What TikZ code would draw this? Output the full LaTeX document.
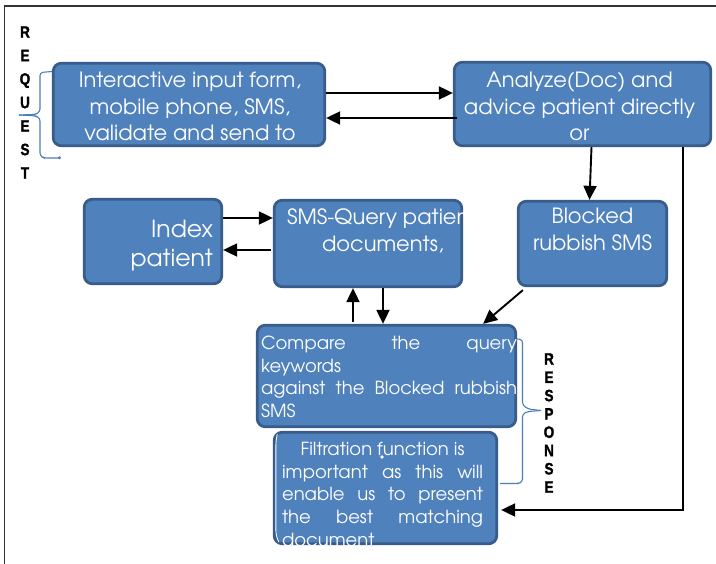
\documentclass[tikz,border=0pt]{standalone}
\usepackage{fontspec}
\setmainfont{TeX Gyre Adventor}
\newfontfamily\lblfont{Liberation Sans}[FakeStretch=0.82, FakeBold=1.5]
\usetikzlibrary{arrows.meta}
\definecolor{boxfill}{HTML}{4F81BD}
\definecolor{boxline}{HTML}{385D8A}
\definecolor{bracecol}{HTML}{4A7EBB}
\definecolor{framecol}{HTML}{333333}
\begin{document}
\begin{tikzpicture}[x=1pt,y=-1pt,
  box/.style={draw=boxline, fill=boxfill, line width=2.8pt, rounded corners=8pt, inner sep=0pt},
  txt/.style={text=white, inner sep=0pt, align=center, anchor=north, font=\fontsize{21}{26.5}\selectfont},
  smalltxt/.style={text=white, inner sep=0pt, align=left, anchor=north west, font=\fontsize{18}{22.7}\selectfont},
  arr/.style={draw=black, line width=1.9pt, -{Triangle[length=14pt,width=13pt]}},
  bracestyle/.style={draw=bracecol, line width=1.1pt, rounded corners=3pt},
  letters/.style={inner sep=0pt, align=center, font=\lblfont\bfseries\fontsize{16.5}{#1}\selectfont}]
\useasboundingbox (0,0) rectangle (716,564);
\fill[white] (0,0) rectangle (716,564);
% frame
\draw[framecol, line width=1.3pt] (4.5,570) -- (4.5,6) -- (720,6);

% boxes
\node[box, minimum width=271.5pt, minimum height=82.5pt] (in) at (189,104.5) {};
\node[box, minimum width=256.5pt, minimum height=83.5pt] (an) at (582.5,104) {};
\node[box, minimum width=148.5pt, minimum height=84.5pt] (bl) at (592.5,243.5) {};
\node[box, minimum width=137.5pt, minimum height=84.5pt] (ix) at (153,241.5) {};
\node[box, minimum width=187.5pt, minimum height=86.5pt] (sq) at (368,243.5) {};
\node[box, minimum width=258.5pt, minimum height=101.5pt] (cm) at (386.5,376) {};
\node[box, minimum width=222.5pt, minimum height=111.5pt] (fi) at (385.5,488) {};

% texts
\node[txt] (tin) at ([xshift=1pt,yshift=-10pt]in.north) {Interactive input form,\\mobile phone, SMS,\\validate and send to};
\node[txt] (tan) at ([xshift=-3pt,yshift=-11pt]an.north) {Analyze(Doc) and\\advice patient directly\\or};
\node[txt] (tbl) at ([yshift=-8pt]bl.north) {Blocked\\rubbish SMS};
\node[txt, anchor=north east, align=right, font=\fontsize{23.5}{29}\selectfont] (tix) at ([xshift=-10pt,yshift=-22pt]ix.north east) {Index\\patient};
\begin{scope}
  \clip[rounded corners=8pt] (sq.south west) rectangle (sq.north east);
  \node[txt, anchor=north west, align=left] (tsq) at ([xshift=14pt,yshift=-10pt]sq.north west) {SMS-Query patient\\\hspace*{35pt}documents,};
\end{scope}
\begin{scope}
  \clip[rounded corners=8pt] (cm.south west) rectangle (cm.north east);
  \node[smalltxt] (tcm) at ([xshift=5pt,yshift=-12pt]cm.north west) {\makebox[256pt][s]{Compare the query}\\keywords\\\makebox[256pt][s]{against the Blocked rubbish}\\SMS};
\end{scope}
\begin{scope}
  \clip[rounded corners=8pt] (fi.south west) rectangle (fi.north east);
  \node[smalltxt] (tfi) at ([xshift=9pt,yshift=-11pt]fi.north west) {\makebox[201pt][c]{Filtration function is}\\\makebox[201pt][s]{important as this will}\\\makebox[201pt][s]{enable us to present}\\\makebox[201pt][s]{the best matching}\\document};
\end{scope}
\draw[white, line width=0.8pt, rounded corners=6pt] ([xshift=4pt,yshift=-5pt]fi.north west) -- ([xshift=3pt,yshift=-9pt]fi.north west) -- ([xshift=3pt,yshift=9pt]fi.south west) -- ([xshift=6pt,yshift=3pt]fi.south west);
\fill[white] (382,457) circle (1.8pt);

% connectors
\coordinate (ya) at ([yshift=11.5pt]in.east);
\coordinate (yb) at ([yshift=-13.5pt]in.east);
\draw[arr] (ya) -- (ya -| an.west);
\draw[arr] ([xshift=4pt]yb -| an.west) -- (yb);
\draw[arr] ([xshift=-1pt]an.south -| bl.north) -- ([xshift=-3pt]bl.north);
\coordinate (rc) at ([xshift=-29pt]an.south east);
\coordinate (fe) at ([xshift=3pt,yshift=-22pt]fi.east);
\draw[arr] (rc) |- (fe);
\coordinate (y5) at ([yshift=23.5pt]ix.east);
\coordinate (y6) at ([yshift=-8.5pt]ix.east);
\draw[arr] (y5) -- (y5 -| sq.west);
\draw[arr] ([xshift=-2pt]y6 -| sq.west) -- (y6);
\coordinate (u1) at ([xshift=-15pt]sq.south);
\coordinate (u2) at ([xshift=15pt]sq.south);
\draw[arr] ([yshift=2pt]u1 |- cm.north) -- (u1);
\draw[arr] (u2) -- (u2 |- cm.north);
\draw[arr] ([xshift=6pt,yshift=-3pt]bl.south west) -- ([xshift=-34pt]cm.north east);

% braces
\draw[bracestyle] (52,71.5) -- (40,72.5) -- (40,112) -- (35,114.5) -- (19,115);
\draw[bracestyle] (19,115) -- (35,115.8) -- (40,118) -- (40,156) -- (44,158) -- (60,158);
\fill[bracecol] (59.5,157.8) circle (1.6pt);
\draw[bracestyle] (517,339) -- (522.5,339.5) -- (522.5,405) -- (528,409) -- (541,410.5);
\draw[bracestyle] (541,410.5) -- (528,411.5) -- (522.5,414) -- (522.5,482) -- (518,483.5) -- (500,483.5);

% side labels
\node[letters=23.5] (req) at (25,102.5) {R\\E\\Q\\U\\E\\S\\T};
\node[letters=18.3] (resp) at (549,423) {R\\E\\S\\P\\O\\N\\S\\E};
\end{tikzpicture}
\end{document}
